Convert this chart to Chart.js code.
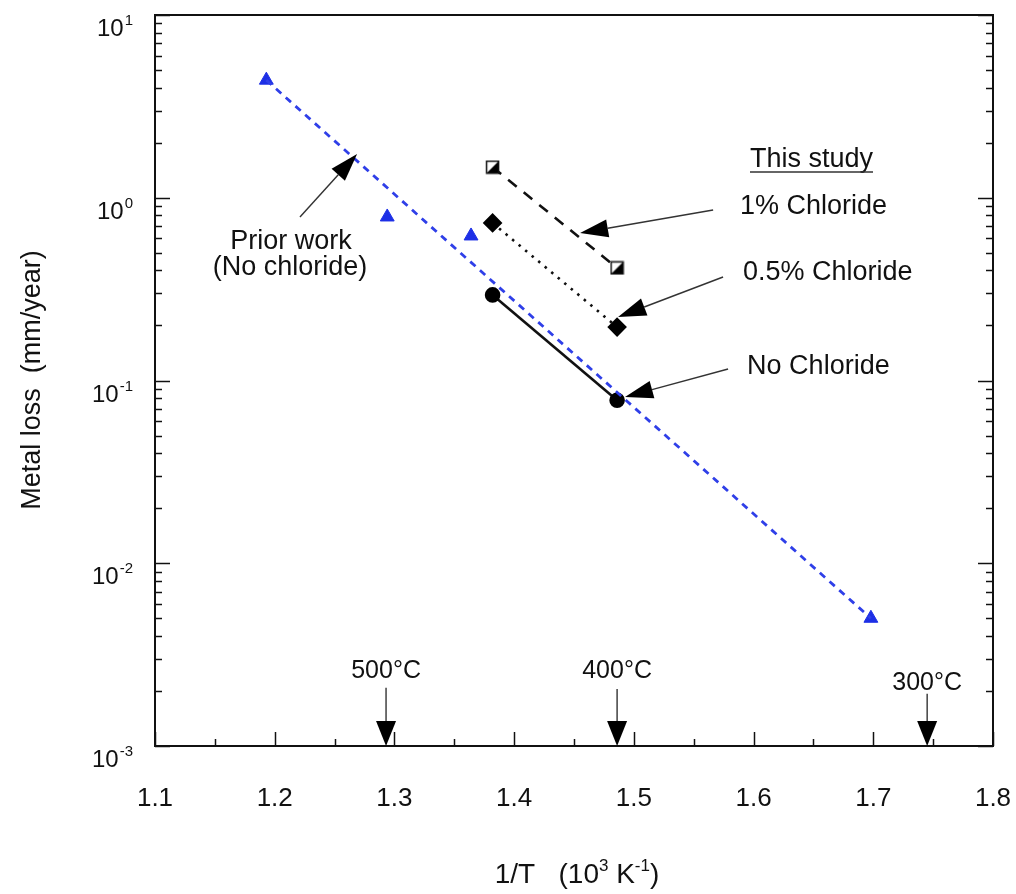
<!DOCTYPE html>
<html><head><meta charset="utf-8">
<script src="https://cdn.jsdelivr.net/npm/chart.js@4"></script>
<style>html,body{margin:0;padding:0;background:#fff}</style>
</head><body>
<canvas id="c" width="1016" height="894"></canvas>
<script>
const FONT = "'Liberation Sans', Arial, Helvetica, sans-serif";

// ---- data ----
const priorX = [1.193, 1.294, 1.364, 1.698];
const priorY = [4.4, 0.785, 0.618, 0.005];
const priorFitX = [1.193, 1.698];
const priorFitY = [4.4, 0.005];
const noClX = [1.382, 1.486];
const noClY = [0.294, 0.078];
const halfClX = [1.382, 1.486];
const halfClY = [0.728, 0.196];
const oneClX = [1.382, 1.486];
const oneClY = [1.47, 0.413];

// ---- ticks ----
const xTickValues = [1.1, 1.2, 1.3, 1.4, 1.5, 1.6, 1.7, 1.8];
const xTickLabels = ['1.1', '1.2', '1.3', '1.4', '1.5', '1.6', '1.7', '1.8'];
const yTickValues = [0.001, 0.01, 0.1, 1, 10];
const yTickBase = ['10', '10', '10', '10', '10'];
const yTickExp = ['-3', '-2', '-1', '0', '1'];

// ---- annotations ----
const legendTexts = ['1% Chloride', '0.5% Chloride', 'No Chloride'];
const legendX = [1.5887, 1.5912, 1.5946];
const legendY = [0.890, 0.3876, 0.1186];
const headerText = 'This study';
const headerX = 1.597, headerY = 1.609;
const priorText = ['Prior work', '(No chloride)'];
const priorTextX = [1.2136, 1.2128];
const priorTextY = [0.573, 0.413];
const arrowFromX = [1.2211, 1.5662, 1.5745, 1.5787];
const arrowFromY = [0.785, 0.857, 0.3685, 0.1156];
const arrowToX = [1.2688, 1.4551, 1.4868, 1.4926];
const arrowToY = [1.735, 0.641, 0.2226, 0.0812];
const tempLabels = ['500°C', '400°C', '300°C'];
const tempX = [1.293, 1.486, 1.745];
const tempLabelY = [0.00257, 0.00257, 0.00221];
const tempArrowTopY = [0.00208, 0.00205, 0.00193];
const xTitle = ['1/T   (10', '3', ' K', '-1', ')'];
const yTitle = 'Metal loss  (mm/year)';

const pts = (xs, ys) => xs.map((x, i) => ({x, y: ys[i]}));

function halfSquare() {
  const s = 15, c = document.createElement('canvas');
  c.width = s; c.height = s;
  const g = c.getContext('2d');
  g.fillStyle = '#fff'; g.fillRect(1, 1, s - 2, s - 2);
  g.fillStyle = '#000'; g.beginPath();
  g.moveTo(s - 1, 1); g.lineTo(s - 1, s - 1); g.lineTo(1, s - 1); g.closePath(); g.fill();
  g.strokeStyle = '#111'; g.lineWidth = 1.5; g.strokeRect(1.5, 1.5, s - 3, s - 3);
  return c;
}

function arrow(ctx, x1, y1, x2, y2, len, half, lw) {
  const a = Math.atan2(y2 - y1, x2 - x1);
  const bx = x2 - len * Math.cos(a), by = y2 - len * Math.sin(a);
  ctx.strokeStyle = '#333'; ctx.lineWidth = lw;
  ctx.beginPath(); ctx.moveTo(x1, y1); ctx.lineTo(bx, by); ctx.stroke();
  ctx.fillStyle = '#000'; ctx.beginPath();
  ctx.moveTo(x2, y2);
  ctx.lineTo(bx + half * Math.sin(a), by - half * Math.cos(a));
  ctx.lineTo(bx - half * Math.sin(a), by + half * Math.cos(a));
  ctx.closePath(); ctx.fill();
}

const decor = {
  id: 'decor',
  afterDraw(chart) {
    const ctx = chart.ctx, xs = chart.scales.x, ys = chart.scales.y;
    const a = chart.chartArea;
    ctx.save();
    // frame
    ctx.strokeStyle = '#111'; ctx.lineWidth = 2;
    ctx.strokeRect(a.left, a.top, a.right - a.left, a.bottom - a.top);
    // x ticks (inward from bottom)
    ctx.lineWidth = 1.5;
    for (let k = 0; k <= 14; k++) {
      const v = 1.1 + k * 0.05;
      const px = Math.round(xs.getPixelForValue(v)) + 0.5;
      const L = k % 2 === 0 ? 14 : 7;
      ctx.beginPath(); ctx.moveTo(px, a.bottom); ctx.lineTo(px, a.bottom - L); ctx.stroke();
    }
    // y ticks (left and right)
    for (let e = -3; e <= 1; e++) {
      for (let m = 1; m <= 9; m++) {
        if (e === 1 && m > 1) break;
        const py = Math.round(ys.getPixelForValue(m * Math.pow(10, e))) + 0.5;
        const L = m === 1 ? 15 : 7;
        ctx.beginPath(); ctx.moveTo(a.left, py); ctx.lineTo(a.left + L, py); ctx.stroke();
        ctx.beginPath(); ctx.moveTo(a.right, py); ctx.lineTo(a.right - L, py); ctx.stroke();
      }
    }
    // y tick labels with exponents
    ctx.fillStyle = '#111'; ctx.textBaseline = 'alphabetic';
    yTickValues.forEach((v, i) => {
      const py = ys.getPixelForValue(v);
      ctx.font = '15px ' + FONT;
      const ew = ctx.measureText(yTickExp[i]).width;
      const right = 133;
      ctx.textAlign = 'left';
      ctx.fillText(yTickExp[i], right - ew, py + 10);
      ctx.font = '24px ' + FONT;
      ctx.textAlign = 'right';
      ctx.fillText(yTickBase[i], right - ew - 1, py + 21);
    });
    // y title
    ctx.save();
    ctx.translate(40, 380); ctx.rotate(-Math.PI / 2);
    ctx.font = '27px ' + FONT; ctx.textAlign = 'center'; ctx.textBaseline = 'alphabetic';
    ctx.fillText(yTitle, 0, 0);
    ctx.restore();
    // x title with superscripts
    {
      const big = '28px ' + FONT, small = '17px ' + FONT;
      const parts = xTitle.map((t, i) => ({t, f: (i % 2 === 1) ? small : big, sup: i % 2 === 1}));
      let total = 0;
      parts.forEach(p => { ctx.font = p.f; p.w = ctx.measureText(p.t).width; total += p.w; });
      let x = 577 - total / 2; const base = 883;
      ctx.textAlign = 'left';
      parts.forEach(p => { ctx.font = p.f; ctx.fillText(p.t, x, p.sup ? base - 12 : base); x += p.w; });
    }
    // annotation arrows
    arrowFromX.forEach((fx, i) => {
      arrow(ctx, xs.getPixelForValue(fx), ys.getPixelForValue(arrowFromY[i]),
        xs.getPixelForValue(arrowToX[i]), ys.getPixelForValue(arrowToY[i]), 28, 9, 1.4);
    });
    // annotation texts
    ctx.font = '27px ' + FONT; ctx.textBaseline = 'middle'; ctx.fillStyle = '#111';
    ctx.textAlign = 'left';
    legendTexts.forEach((t, i) => ctx.fillText(t, xs.getPixelForValue(legendX[i]), ys.getPixelForValue(legendY[i])));
    {
      const hx = xs.getPixelForValue(headerX), hy = ys.getPixelForValue(headerY);
      ctx.fillText(headerText, hx, hy);
      const w = ctx.measureText(headerText).width;
      ctx.strokeStyle = '#333'; ctx.lineWidth = 1.5;
      ctx.beginPath(); ctx.moveTo(hx, hy + 12); ctx.lineTo(hx + w, hy + 12); ctx.stroke();
    }
    ctx.textAlign = 'center';
    priorText.forEach((t, i) => ctx.fillText(t, xs.getPixelForValue(priorTextX[i]), ys.getPixelForValue(priorTextY[i])));
    // temperature markers
    tempLabels.forEach((t, i) => {
      const px = xs.getPixelForValue(tempX[i]);
      ctx.font = '25px ' + FONT; ctx.textAlign = 'center'; ctx.textBaseline = 'middle'; ctx.fillStyle = '#111';
      ctx.fillText(t, px, ys.getPixelForValue(tempLabelY[i]));
      arrow(ctx, px, ys.getPixelForValue(tempArrowTopY[i]), px, a.bottom, 25, 10, 1.4);
    });
    ctx.restore();
  }
};

new Chart(document.getElementById('c'), {
  type: 'scatter',
  data: {
    datasets: [
      {data: pts(priorFitX, priorFitY), showLine: true, pointRadius: 0, borderColor: '#2f3fe8',
        borderWidth: 2.8, borderDash: [7, 6], fill: false},
      {data: pts(priorX, priorY), showLine: false, pointStyle: 'triangle', pointRadius: 8,
        backgroundColor: '#1d2fe6', borderColor: '#1d2fe6', borderWidth: 1},
      {data: pts(noClX, noClY), showLine: true, borderColor: '#111', borderWidth: 2.6,
        pointStyle: 'circle', pointRadius: 6.5, backgroundColor: '#000', pointBorderColor: '#000'},
      {data: pts(halfClX, halfClY), showLine: true, borderColor: '#111', borderWidth: 2.6, borderDash: [2.5, 6],
        pointStyle: 'rectRot', pointRadius: 8, backgroundColor: '#000', pointBorderColor: '#000'},
      {data: pts(oneClX, oneClY), showLine: true, borderColor: '#111', borderWidth: 2.6, borderDash: [11, 9],
        pointStyle: halfSquare(), pointRadius: 7}
    ]
  },
  options: {
    responsive: false, animation: false, devicePixelRatio: 1,
    layout: {padding: {top: 15, right: 23, left: 0, bottom: 0}},
    plugins: {legend: {display: false}, tooltip: {enabled: false}},
    scales: {
      x: {type: 'linear', min: 1.1, max: 1.8,
        afterFit: s => { s.height = 148; s.paddingLeft = 0; s.paddingRight = 0; },
        afterBuildTicks: s => { s.ticks = xTickValues.map(v => ({value: v})); },
        grid: {display: false, drawTicks: false}, border: {display: false},
        ticks: {padding: 37, color: '#111', font: {family: FONT, size: 26}, maxRotation: 0,
          callback: (v, i) => xTickLabels[i]}},
      y: {type: 'logarithmic', min: 0.001, max: 10,
        afterFit: s => { s.width = 155; s.paddingTop = 0; s.paddingBottom = 0; },
        grid: {display: false, drawTicks: false}, border: {display: false},
        ticks: {display: false}}
    }
  },
  plugins: [decor]
});
</script>
</body></html>
